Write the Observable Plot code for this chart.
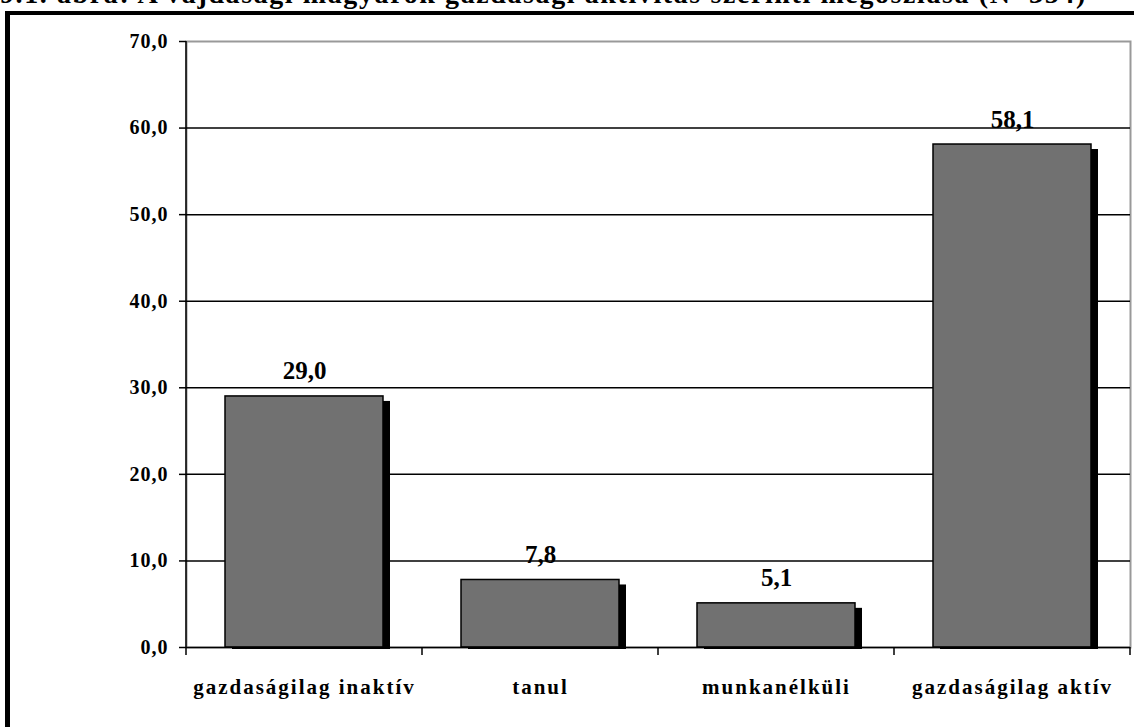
<!DOCTYPE html>
<html>
<head>
<meta charset="utf-8">
<script src="https://cdn.jsdelivr.net/npm/d3@7"></script>
<script src="https://cdn.jsdelivr.net/npm/@observablehq/plot@0.6"></script>
<style>
  html, body { margin: 0; padding: 0; background: #fff; overflow: hidden; }
  #wrap { position: relative; width: 1134px; height: 727px; overflow: hidden; background: #fff; }
  #title { position: absolute; left: 0; top: -20px; white-space: nowrap;
    font-family: "Liberation Serif", "Times New Roman", serif; font-weight: bold; font-size: 28px; letter-spacing: 1.6px; line-height: 1; color: #000; }
  #frame { position: absolute; left: 5px; top: 11px; width: 1200px; height: 800px;
    border-left: 5px solid #000; border-top: 4px solid #000; }
  #chart { position: absolute; left: 0; top: 0; }
  #chart svg { background: transparent; }
  #chart g[aria-label="x-axis tick label"] text { letter-spacing: 2px; }
  #chart g[aria-label="y-axis tick label"] text { letter-spacing: 1px; }
</style>
</head>
<body>
<div id="wrap">
  <div id="title">9.1. ábra: A vajdasági magyarok gazdasági aktivitás szerinti megoszlása (N=354)</div>
  <div id="frame"></div>
  <div id="chart"></div>
</div>
<script>
const categories = ["gazdaságilag inaktív", "tanul", "munkanélküli", "gazdaságilag aktív"];
const values = [29.0, 7.8, 5.1, 58.1];
const yTicks = [0, 10, 20, 30, 40, 50, 60, 70];

const data = categories.map((c, i) => ({cat: c, value: values[i]}));
const fmt = d => d.toFixed(1).replace(".", ",");

// custom mark: y axis line and x boundary ticks using the plot's band scale
function boundaryMark(index, scales, values, dimensions) {
  const x = scales.x, y = scales.y;
  const bw = x.bandwidth();
  const dom = categories;
  const step = typeof x.step === "function" ? x.step() : (x(dom[1]) - x(dom[0]));
  const gap = (step - bw) / 2;
  const bounds = dom.map(c => x(c) - gap).concat([x(dom[dom.length - 1]) + bw + gap]);
  const g = d3.create("svg:g");
  const y0 = y(0), yTop = y(yTicks[yTicks.length - 1]);
  g.selectAll("line.b").data(bounds).join("line")
    .attr("x1", d => d).attr("x2", d => d)
    .attr("y1", y0).attr("y2", y0 + 8)
    .attr("stroke", "#000").attr("stroke-width", 1.5);
  g.append("line")
    .attr("x1", bounds[0]).attr("x2", bounds[0])
    .attr("y1", yTop).attr("y2", y0)
    .attr("stroke", "#000").attr("stroke-width", 1.5);
  return g.node();
}

const plot = Plot.plot({
  width: 1134,
  height: 727,
  marginTop: 41,
  marginBottom: 80,
  marginLeft: 186,
  marginRight: 4,
  style: {
    fontFamily: "'Liberation Serif', 'Times New Roman', serif",
    fontWeight: "bold",
    color: "#000",
    background: "transparent"
  },
  x: {domain: categories, paddingInner: 0.33, paddingOuter: 0.165, label: null},
  y: {domain: [0, 70], label: null},
  marks: [
    Plot.frame({stroke: "#999", strokeWidth: 2}),
    Plot.ruleY(yTicks.filter(d => d > 0 && d < 70), {stroke: "#000", strokeWidth: 1.5}),
    Plot.barY(data, {x: "cat", y: "value", fill: "#000", dx: 7, dy: 2, insetTop: 3}),
    Plot.barY(data, {x: "cat", y: "value", fill: "#717171", stroke: "#000", strokeWidth: 1.5}),
    Plot.ruleY([0], {stroke: "#000", strokeWidth: 1.5}),
    boundaryMark,
    Plot.axisY({ticks: yTicks, tickSize: 7, tickPadding: 11, tickFormat: fmt, fontSize: 20, fontWeight: "bold", strokeWidth: 1.5, label: null}),
    Plot.axisX({tickSize: 0, tickPadding: 32, fontSize: 21, fontWeight: "bold", label: null}),
    Plot.text(data, {x: "cat", y: "value", text: d => fmt(d.value), lineAnchor: "bottom", dy: -17, fontSize: 25, fontWeight: "bold", fill: "#000"})
  ]
});
document.getElementById("chart").appendChild(plot);
</script>
</body>
</html>
